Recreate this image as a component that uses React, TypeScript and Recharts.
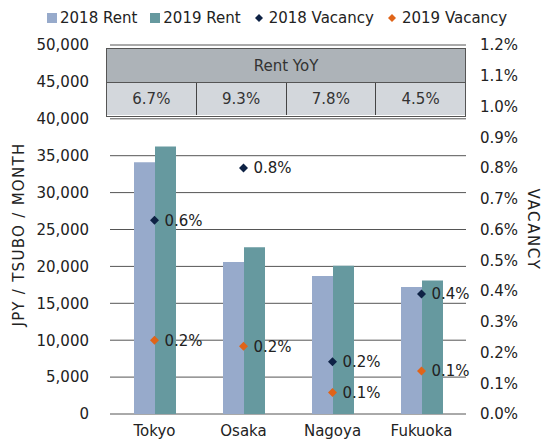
import React from 'react';
import { ComposedChart, Bar, Line, XAxis, YAxis, CartesianGrid, Legend, LabelList } from 'recharts';

const categories = ['Tokyo', 'Osaka', 'Nagoya', 'Fukuoka'];
const rent2018 = [34100, 20600, 18700, 17200];
const rent2019 = [36250, 22600, 20100, 18100];
const vacancy2018 = [0.63, 0.80, 0.17, 0.39];
const vacancy2019 = [0.24, 0.22, 0.07, 0.14];
const rentYoY = ['6.7%', '9.3%', '7.8%', '4.5%'];
const leftTicks = [0, 5000, 10000, 15000, 20000, 25000, 30000, 35000, 40000, 45000, 50000];
const rightTicks = [0, 0.1, 0.2, 0.3, 0.4, 0.5, 0.6, 0.7, 0.8, 0.9, 1.0, 1.1, 1.2];

const C18 = '#97aacb';
const C19 = '#66999f';
const V18 = '#0e2245';
const V19 = '#e06418';
const TXT = '#222222';
const FONT = '"DejaVu Sans", sans-serif';

const data = categories.map((c, i) => ({
  name: c,
  r18: rent2018[i],
  r19: rent2019[i],
  v18: vacancy2018[i],
  v19: vacancy2019[i],
}));

const diamond = (color: string) => (props: any) => {
  const { cx, cy, index } = props;
  if (cx == null || cy == null) return <g key={index} />;
  const s = 4.5;
  return (
    <path key={index} d={`M${cx},${cy - s}L${cx + s},${cy}L${cx},${cy + s}L${cx - s},${cy}Z`} fill={color} />
  );
};

const legendItems = [
  { label: '2018 Rent', color: C18, shape: 'square' },
  { label: '2019 Rent', color: C19, shape: 'square' },
  { label: '2018 Vacancy', color: V18, shape: 'diamond' },
  { label: '2019 Vacancy', color: V19, shape: 'diamond' },
];

const LegendContent = () => (
  <div style={{ display: 'flex', justifyContent: 'flex-start', paddingLeft: 47, fontFamily: FONT, fontSize: 15, color: TXT, lineHeight: '20px' }}>
    {legendItems.map((it, i) => (
      <div key={i} style={{ display: 'flex', alignItems: 'center', marginRight: 13 }}>
        <svg width={10} height={10} style={{ marginRight: it.shape === 'square' ? 3 : 5 }}>
          {it.shape === 'square' ? (
            <rect x={0} y={0} width={10} height={10} fill={it.color} />
          ) : (
            <path d="M5,1L9,5L5,9L1,5Z" fill={it.color} />
          )}
        </svg>
        <span>{it.label}</span>
      </div>
    ))}
  </div>
);

const LeftTitle = (props: any) => {
  const vb = props.viewBox || { x: 0, y: 45, width: 110, height: 369 };
  const cx = vb.x + 19;
  const cy = vb.y + vb.height / 2 + 5;
  return (
    <text x={cx} y={cy} transform={`rotate(-90, ${cx}, ${cy})`} textAnchor="middle" dominantBaseline="central"
      fill={TXT} fontSize={15} fontFamily={FONT} letterSpacing={1.3}>
      JPY / TSUBO / MONTH
    </text>
  );
};

const RightTitle = (props: any) => {
  const vb = props.viewBox || { x: 466, y: 45, width: 75, height: 369 };
  const cx = vb.x + 67;
  const cy = vb.y + vb.height / 2;
  return (
    <text x={cx} y={cy} transform={`rotate(90, ${cx}, ${cy})`} textAnchor="middle" dominantBaseline="central"
      fill={TXT} fontSize={15} fontFamily={FONT} letterSpacing={1.6}>
      VACANCY
    </text>
  );
};

const fmtLeft = (v: number) => v.toLocaleString('en-US');
const fmtRight = (v: number) => `${v.toFixed(1)}%`;
const fmtLabel = (v: any) => `${Number(v).toFixed(1)}%`;

const YoYTable = () => (
  <div style={{ position: 'absolute', left: 106, top: 48, width: 360, height: 69, fontFamily: FONT, fontSize: 15, color: '#333', boxSizing: 'border-box', border: '1.5px solid #555' }}>
    <div style={{ height: 34, background: '#adb3b8', borderBottom: '1px solid #555', display: 'flex', alignItems: 'center', justifyContent: 'center', boxSizing: 'border-box' }}>
      Rent YoY
    </div>
    <div style={{ display: 'flex', height: 32, background: '#d3d7dc' }}>
      {rentYoY.map((v, i) => (
        <div key={i} style={{ flex: 1, display: 'flex', alignItems: 'center', justifyContent: 'center', borderLeft: i === 0 ? 'none' : '1px solid #444' }}>
          {v}
        </div>
      ))}
    </div>
  </div>
);

export default function App() {
  return (
    <div style={{ position: 'absolute', left: 0, top: 0, width: 541, height: 444, background: '#fff' }}>
      <ComposedChart width={541} height={444} data={data} margin={{ top: 45, right: 0, bottom: 0, left: 0 }} barGap={0}>
        <CartesianGrid horizontal vertical={false} stroke="#555" yAxisId="left" />
        <XAxis dataKey="name" axisLine={false} tickLine={false} tickSize={0} tickMargin={11} height={30}
          tick={{ fill: TXT, fontSize: 15, fontFamily: FONT }} interval={0} />
        <YAxis yAxisId="left" orientation="left" width={110} domain={[0, 50000]} ticks={leftTicks}
          axisLine={false} tickLine={false} tickSize={0} tickMargin={21} tickFormatter={fmtLeft}
          tick={{ fill: TXT, fontSize: 15, fontFamily: FONT }} label={<LeftTitle />} interval={0} />
        <YAxis yAxisId="right" orientation="right" width={75} domain={[0, 1.2]} ticks={rightTicks}
          axisLine={false} tickLine={false} tickSize={0} tickMargin={14} tickFormatter={fmtRight}
          tick={{ fill: TXT, fontSize: 15, fontFamily: FONT }} label={<RightTitle />} interval={0} />
        <Legend layout="horizontal" verticalAlign="middle" align="center" content={<LegendContent />}
          wrapperStyle={{ top: 8, left: 0, width: 541 }} />
        <Bar yAxisId="left" dataKey="r18" name="2018 Rent" fill={C18} barSize={21} isAnimationActive={false} />
        <Bar yAxisId="left" dataKey="r19" name="2019 Rent" fill={C19} barSize={21} isAnimationActive={false} />
        <Line yAxisId="right" dataKey="v18" name="2018 Vacancy" stroke="none" dot={diamond(V18)} activeDot={false} isAnimationActive={false}>
          <LabelList dataKey="v18" position="right" offset={10} formatter={fmtLabel} fill={TXT} fontSize={15} fontFamily={FONT} />
        </Line>
        <Line yAxisId="right" dataKey="v19" name="2019 Vacancy" stroke="none" dot={diamond(V19)} activeDot={false} isAnimationActive={false}>
          <LabelList dataKey="v19" position="right" offset={10} formatter={fmtLabel} fill={TXT} fontSize={15} fontFamily={FONT} />
        </Line>
      </ComposedChart>
      <YoYTable />
    </div>
  );
}
